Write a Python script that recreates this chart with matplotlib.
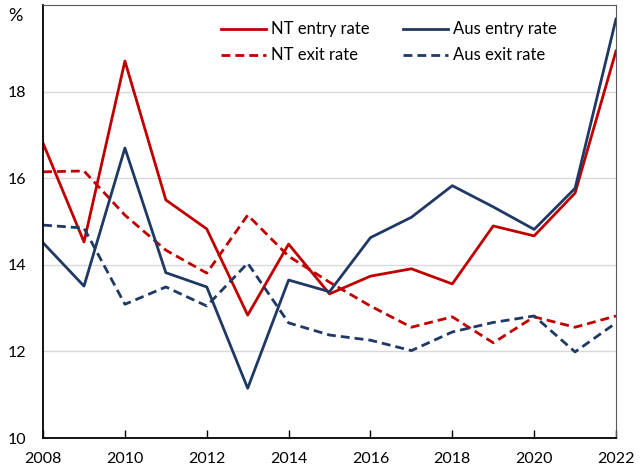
import matplotlib.pyplot as plt

plt.rcParams['font.family'] = ['Lato', 'DejaVu Sans']

# Data
years = list(range(2008, 2023))
nt_entry = [16.81, 14.53, 18.71, 15.50, 14.83, 12.84, 14.48, 13.33, 13.74, 13.91, 13.56, 14.90, 14.67, 15.66, 18.94]
aus_entry = [14.51, 13.51, 16.70, 13.82, 13.49, 11.15, 13.65, 13.38, 14.63, 15.10, 15.83, 15.34, 14.82, 15.77, 19.68]
nt_exit = [16.15, 16.17, 15.15, 14.34, 13.81, 15.15, 14.20, 13.60, 13.05, 12.56, 12.80, 12.20, 12.80, 12.56, 12.82]
aus_exit = [14.92, 14.85, 13.09, 13.49, 13.05, 14.04, 12.66, 12.38, 12.26, 12.02, 12.45, 12.67, 12.82, 11.99, 12.66]
x_ticks = list(range(2008, 2023, 2))
y_ticks = [10, 12, 14, 16, 18]

red = '#C00000'
navy = '#1F3864'
dash = (0, (3.2, 1.8))

fig = plt.figure(figsize=(6.43, 4.70), dpi=100)
ax = fig.add_axes([0.067, 0.068, 0.891, 0.921])

# order so that legend rows read entry / exit
ax.plot(years, nt_entry, color=red, lw=2.0, label='NT entry rate')
ax.plot(years, nt_exit, color=red, lw=2.0, ls=dash, label='NT exit rate')
ax.plot(years, aus_entry, color=navy, lw=2.0, label='Aus entry rate')
ax.plot(years, aus_exit, color=navy, lw=2.0, ls=dash, label='Aus exit rate')

ax.set_xlim(2008, 2022)
ax.set_ylim(10, 20)
ax.set_xticks(x_ticks)
ax.set_yticks(y_ticks)
ax.tick_params(axis='x', direction='in', length=6, width=1, pad=10, labelsize=11.5)
ax.tick_params(axis='y', length=0, pad=12, labelsize=11.5)

# Grid
for v in [12, 14, 16, 18]:
    ax.axhline(v, color='#D9D9D9', lw=1, zorder=0)

for s in ['top', 'right']:
    ax.spines[s].set_color('#595959')
for s in ['left', 'bottom']:
    ax.spines[s].set_color('black')
    ax.spines[s].set_linewidth(1.3)

ax.text(-0.035, 0.975, '%', transform=ax.transAxes, ha='right', va='center', fontsize=13)

ax.legend(loc='upper center', bbox_to_anchor=(0.603, 0.997), ncol=2, frameon=False,
          fontsize=12, handlelength=2.7, handletextpad=0.3, columnspacing=2.0,
          labelspacing=0.6)

plt.savefig('out.png', dpi=100)
